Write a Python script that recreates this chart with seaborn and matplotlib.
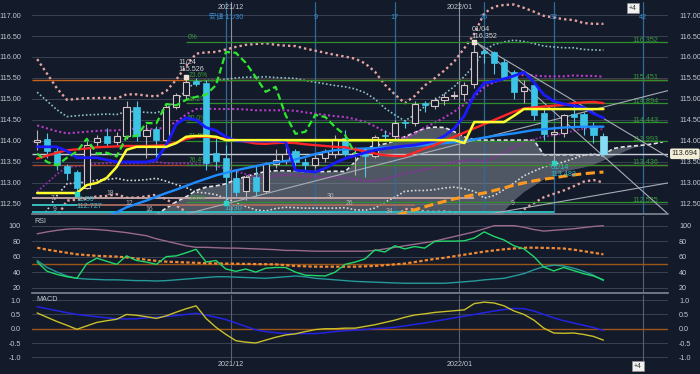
import numpy as np
import pandas as pd
import matplotlib
matplotlib.use("Agg")
import matplotlib.pyplot as plt
import matplotlib.transforms as mtransforms
import seaborn as sns

# ---- USD/JPY daily ----
dates = ["11/03", "11/04", "11/05", "11/08", "11/09", "11/10", "11/11", "11/12", "11/15", "11/16",
         "11/17", "11/18", "11/19", "11/22", "11/23", "11/24", "11/25", "11/26", "11/29", "11/30",
         "12/01", "12/02", "12/03", "12/06", "12/07", "12/08", "12/09", "12/10", "12/13", "12/14",
         "12/15", "12/16", "12/17", "12/20", "12/21", "12/22", "12/23", "12/24", "12/27", "12/28",
         "12/29", "12/30", "12/31", "01/03", "01/04", "01/05", "01/06", "01/07", "01/10", "01/11",
         "01/12", "01/13", "01/14", "01/17", "01/18", "01/19", "01/20", "01/21"]
opens = [113.98, 114.05, 113.75, 113.40, 113.26, 112.88, 113.98, 114.12, 113.98, 114.12,
         114.82, 114.12, 114.28, 114.02, 114.82, 115.10, 115.42, 115.38, 113.72, 113.60,
         113.12, 112.80, 113.15, 112.80, 113.45, 113.55, 113.75, 113.50, 113.42, 113.60,
         113.70, 114.07, 113.68, 113.70, 113.65, 114.15, 114.12, 114.45, 114.43, 114.90,
         114.83, 114.97, 115.08, 115.12, 115.36, 116.14, 116.12, 115.88, 115.64, 115.19,
         115.33, 114.67, 114.17, 114.19, 114.64, 114.64, 114.33, 114.12]
highs = [114.25, 114.20, 113.85, 113.45, 113.30, 114.00, 114.15, 114.30, 114.22, 114.95,
         114.95, 114.40, 114.35, 114.90, 115.15, 115.53, 115.50, 115.45, 114.10, 113.90,
         113.30, 113.20, 113.40, 113.50, 113.80, 113.90, 113.80, 113.60, 113.70, 113.80,
         114.15, 114.25, 113.85, 113.80, 114.15, 114.25, 114.50, 114.50, 114.95, 114.95,
         115.05, 115.15, 115.20, 115.40, 116.35, 116.20, 116.15, 115.95, 115.70, 115.45,
         115.35, 114.75, 114.35, 114.65, 114.90, 114.70, 114.45, 114.20]
lows = [113.78, 113.60, 113.30, 113.08, 112.73, 112.85, 113.85, 113.85, 113.90, 114.05,
        114.00, 113.60, 113.60, 113.95, 114.75, 115.00, 115.30, 113.30, 113.30, 112.53,
        112.70, 112.60, 112.70, 112.75, 113.35, 113.45, 113.40, 113.30, 113.35, 113.50,
        113.60, 113.65, 113.18, 113.15, 113.60, 114.00, 114.05, 114.30, 114.35, 114.70,
        114.75, 114.85, 115.00, 114.95, 115.25, 115.85, 115.60, 115.45, 115.00, 114.90,
        114.50, 114.02, 113.48, 114.10, 114.30, 114.15, 113.95, 113.63]
closes = [114.03, 113.76, 113.42, 113.24, 112.88, 113.90, 114.07, 113.95, 114.12, 114.82,
          114.12, 114.25, 114.02, 114.82, 115.10, 115.40, 115.36, 113.47, 113.52, 113.14,
          112.79, 113.15, 112.80, 113.45, 113.55, 113.70, 113.50, 113.42, 113.60, 113.75,
          114.05, 113.70, 113.72, 113.63, 114.10, 114.12, 114.43, 114.42, 114.88, 114.85,
          114.98, 115.05, 115.10, 115.33, 116.12, 116.10, 115.86, 115.52, 115.17, 115.29,
          114.62, 114.17, 114.22, 114.62, 114.57, 114.33, 114.14, 113.69]

# moving averages / bands
ma_red = [113.58, 113.65, 113.72, 113.78, 113.80, 113.82, 113.85, 113.86, 113.87, 113.88,
          113.88, 113.88, 113.89, 113.90, 113.96, 114.05, 114.10, 114.10, 114.08, 114.05,
          114.02, 113.98, 113.94, 113.93, 113.95, 113.96, 113.95, 113.92, 113.90, 113.88,
          113.86, 113.85, 113.80, 113.75, 113.70, 113.66, 113.64, 113.64, 113.72, 113.82,
          113.90, 114.00, 114.10, 114.20, 114.30, 114.40, 114.50, 114.60, 114.70, 114.77,
          114.80, 114.82, 114.84, 114.86, 114.90, 114.92, 114.93, 114.90]
bb_sigma = [0.79, 0.65, 0.51, 0.40, 0.40, 0.40, 0.39, 0.39, 0.38, 0.41,
            0.41, 0.40, 0.39, 0.43, 0.50, 0.58, 0.66, 0.67, 0.68, 0.71,
            0.74, 0.77, 0.79, 0.80, 0.78, 0.77, 0.77, 0.76, 0.75, 0.74,
            0.73, 0.72, 0.72, 0.70, 0.65, 0.56, 0.49, 0.42, 0.45, 0.50,
            0.53, 0.56, 0.60, 0.67, 0.75, 0.88, 0.90, 0.88, 0.85, 0.80,
            0.76, 0.72, 0.70, 0.68, 0.66, 0.63, 0.62, 0.63]
ma_blue = [113.86, 113.86, 113.86, 113.76, 113.60, 113.60, 113.60, 113.55, 113.50, 113.50,
           113.50, 113.50, 113.55, 113.90, 114.40, 114.55, 114.50, 114.32, 114.25, 114.10,
           114.00, 114.00, 114.00, 114.00, 114.00, 113.98, 113.30, 113.28, 113.26, 113.35,
           113.48, 113.58, 113.65, 113.72, 113.78, 113.82, 113.85, 113.88, 113.90, 113.95,
           114.00, 114.12, 114.30, 114.60, 115.10, 115.38, 115.42, 115.48, 115.55, 115.64,
           115.40, 115.10, 114.95, 114.88, 114.84, 114.80, 114.65, 114.55]
ma_yellow = [112.76, 112.76, 112.76, 112.76, 112.76, 112.95, 113.00, 113.12, 113.38, 113.79,
             113.86, 113.86, 113.86, 113.86, 113.95, 114.10, 114.12, 114.12, 114.10, 114.02,
             114.02, 114.02, 114.02, 114.02, 114.02, 114.02, 114.02, 114.02, 114.02, 114.02,
             114.02, 114.02, 114.02, 114.02, 114.02, 114.02, 114.02, 114.02, 114.02, 114.02,
             114.02, 114.02, 114.02, 113.95, 114.45, 114.45, 114.45, 114.45, 114.60, 114.76,
             114.76, 114.76, 114.76, 114.76, 114.76, 114.76, 114.76, 114.76]
nan = np.nan
ma_lightblue = [nan, nan, nan, nan, nan, nan, nan, 112.20, 112.30, 112.42,
                112.50, 112.58, 112.67, 112.76, 112.84, 112.93, 113.02, 113.10, 113.18, 113.24,
                113.30, 113.35, 113.40, 113.45, 113.49, 113.52, 113.56, 113.62, 113.69, 113.74,
                113.78, 113.80, 113.81, 113.82, 113.83, 113.84, 113.85, 113.86, 113.88, 113.90,
                113.93, 113.95, 113.97, 114.00, 114.04, 114.08, 114.12, 114.15, 114.18, 114.22,
                114.26, 114.28, 114.30, 114.32, 114.33, 114.34, 114.34, 114.34]
# ichimoku cloud (extends 6 bars past the last candle)
cloud_top = [nan, nan, nan, nan, nan, nan, nan, nan, nan, nan,
             nan, nan, 112.25, 112.40, 112.55, 112.67, 112.82, 112.90, 112.93, 112.98,
             113.08, 113.15, 113.22, 113.27, 113.29, 113.29, 113.28, 113.27, 113.27, 113.27,
             113.28, 113.27, 113.50, 113.80, 113.90, 113.93, 114.00, 114.10, 114.20, 114.30,
             114.33, 114.32, 114.22, 114.10, 114.03, 114.02, 114.02, 114.02, 114.02, 114.02,
             114.02, 113.67, 113.67, 113.67, 113.67, 113.67, 113.67, 113.67, 113.82, 113.86,
             113.88, 113.90, 113.93, 113.98]
cloud_bottom = [nan, nan, nan, nan, nan, nan, nan, nan, nan, nan,
                nan, nan, nan, nan, nan, nan, nan, nan, nan, nan,
                nan, nan, nan, nan, nan, nan, nan, nan, nan, nan,
                nan, nan, nan, nan, nan, nan, nan, nan, nan, nan,
                nan, nan, nan, nan, nan, nan, nan, 112.35, 112.60, 112.80,
                112.95, 113.10, 113.20, 113.28, 113.33, 113.38, 113.45, 113.55, 113.65, 113.75,
                113.85, 113.90, 113.93, 113.98]
orange_line = [nan] * 35 + [112.15, 112.22, 112.29, 112.36, 112.43, 112.50, 112.56, 112.62, 112.67, 112.72,
                            112.76, 112.82, 112.88, 112.95, 113.00, 113.05, 113.09, 113.12, 113.16, 113.19,
                            113.22, 113.24, 113.26]

fib_levels = [116.352, 115.451, 114.894, 114.443, 113.993, 113.436, 112.535]
fib_names = ["0%", "23.6%", "38.2%", "50.0%", "61.8%", "76.4%", "100%"]
fib_start = 15
last_price = 113.694

# ichimoku time count (from the 11/30 low)
count_idx = [19, 28, 36, 45, 52, 61]
count_names = ["安値 11/30", "9", "17", "26", "33", "42"]
month_idx = [19.5, 42.5]
month_names = ["2021/12", "2022/01"]

trend_x = [(44.3, 63.5), (44.3, 63.5), (15.0, 63.5), (45.5, 63.5)]
trend_y = [(116.33, 112.26), (116.33, 113.62), (112.26, 115.20), (112.26, 113.00)]

hl_level = [112.64, 112.47, 112.47, 112.31]
hl_end = [44, 38, 4, 52]
hl_color = ["#c8a8a8", "#a86a5a", "#2cc4c4", "#2cc4c4"]

rsi_green = [53, 41, 37, 34, 32, 51, 58, 54, 50, 61,
             55, 53, 50, 60, 61, 65, 69.5, 53, 55, 44,
             41, 44, 40, 45, 46, 46, 40, 36, 35.5, 35,
             40, 50, 53, 57, 68.6, 66, 74, 70, 73, 71,
             79.5, 80, 80, 80.5, 84, 92, 86, 81.5, 74, 70,
             60, 46.5, 41.5, 46, 42, 38, 35, 30]
rsi_purple = [89.5, 92, 94, 95.5, 96, 95.5, 95, 94, 92.5, 91,
              89, 87, 83, 80, 77, 74, 72, 72, 71.5, 71,
              71, 70.5, 70, 69.5, 69, 68, 68, 67.5, 67, 67,
              67, 67, 67, 67, 68, 70, 72, 74, 76, 78,
              80, 83, 86, 89, 92, 96, 100, 100, 100, 98,
              95, 93, 94, 95, 96, 97.5, 99, 100]
rsi_teal = [55, 46, 40, 35, 32, 31, 30.5, 30, 30, 29.5,
            29, 29, 28.5, 29, 30, 31, 32, 33, 34, 34,
            33.5, 33, 32.5, 32, 33, 34, 35, 34, 32, 31,
            30, 29, 28, 27.5, 27, 26.5, 26, 25.6, 25.6, 25.6,
            25.6, 25.6, 26.5, 27.5, 28.5, 30, 31, 32, 35, 38,
            43, 47, 49, 48, 45, 41, 36, 29]
rsi_orange = [71.5, 69, 67, 65, 63, 62, 61, 60.5, 60, 59,
              57.5, 56, 54.5, 53.5, 53, 52.5, 52, 51.5, 51.2, 51,
              50.8, 50.6, 50.4, 50.2, 50, 49, 48, 47.5, 47, 47,
              47, 47, 47, 47.5, 48, 49, 50, 51, 53, 55,
              57, 58.5, 60.5, 62.5, 64.5, 66.5, 68, 69.5, 70.5, 71.5,
              71.6, 71.3, 71, 70.5, 69, 67, 65, 63]
macd_line = [0.55, 0.40, 0.25, 0.12, -0.02, 0.10, 0.22, 0.28, 0.33, 0.50,
             0.47, 0.42, 0.36, 0.45, 0.58, 0.70, 0.80, 0.36, 0.05, -0.20,
             -0.42, -0.47, -0.50, -0.40, -0.30, -0.22, -0.18, -0.10, -0.03, 0.00,
             0.00, 0.02, 0.02, 0.08, 0.14, 0.22, 0.30, 0.40, 0.48, 0.52,
             0.57, 0.60, 0.63, 0.66, 0.88, 0.93, 0.90, 0.80, 0.62, 0.50,
             0.30, 0.02, -0.15, -0.16, -0.15, -0.20, -0.27, -0.40]
macd_signal = [0.77, 0.70, 0.63, 0.56, 0.50, 0.46, 0.42, 0.38, 0.35, 0.34,
               0.35, 0.38, 0.40, 0.43, 0.46, 0.50, 0.54, 0.48, 0.40, 0.32,
               0.20, 0.08, -0.04, -0.10, -0.14, -0.17, -0.17, -0.17, -0.17, -0.14,
               -0.10, -0.07, -0.05, -0.03, 0.00, 0.02, 0.05, 0.10, 0.15, 0.20,
               0.26, 0.32, 0.38, 0.44, 0.50, 0.56, 0.62, 0.67, 0.71, 0.70,
               0.62, 0.50, 0.38, 0.28, 0.20, 0.12, 0.04, -0.06]

BG = "#131a2a"
GRID = "#3a4254"
TXT = "#c4c8d0"
COUNT_BLUE = "#3a8fd0"
FS = 5.2

sns.set_theme(style="dark", rc={
    "axes.facecolor": BG, "figure.facecolor": BG, "axes.edgecolor": "#707888",
    "grid.color": GRID, "text.color": TXT, "xtick.color": TXT, "ytick.color": TXT,
})
plt.rcParams["font.family"] = ["Liberation Sans", "Noto Sans CJK JP"]

df = pd.DataFrame({"date": dates, "open": opens, "high": highs, "low": lows, "close": closes})
df["i"] = np.arange(len(df))
n = len(df)
XMIN, XMAX = -0.52, 63.5
YMIN, YMAX = 112.26, 117.31

fig = plt.figure(figsize=(7, 3.74), dpi=100)
L, W = 32 / 700, 636 / 700
ax = fig.add_axes([L, 1 - 214 / 374, W, 212 / 374])
ax_rsi = fig.add_axes([L, 1 - 293 / 374, W, 77 / 374])
ax_macd = fig.add_axes([L, 1 - 361 / 374, W, 66 / 374])


def line(a, ys, color, lw, ls="-", z=4, xs=None):
    ys = np.asarray(ys, dtype=float)
    xs = np.arange(len(ys)) if xs is None else np.asarray(xs)
    ok = ~np.isnan(ys)
    sns.lineplot(x=xs[ok], y=ys[ok], ax=a, color=color, linewidth=lw,
                 linestyle=ls, zorder=z, estimator=None, legend=False)


# ---------- main price panel ----------
xc = np.arange(len(cloud_top))
top = np.array(cloud_top)
bot = np.where(np.isnan(cloud_bottom), YMIN - 0.5, cloud_bottom)
ax.fill_between(xc, top, bot, where=~np.isnan(top), color="#8e949e", alpha=0.5, lw=0, zorder=1)
line(ax, cloud_top, "#e6e6e6", 1.2, (0, (2.5, 1.5)), z=2)

mid = np.array(ma_red)
sig = np.array(bb_sigma)
line(ax, mid + 3 * sig, "#e4a4a0", 1.7, (0, (1, 1.3)), z=2)
line(ax, mid - 3 * sig, "#e4a4a0", 1.7, (0, (1, 1.3)), z=2)
line(ax, mid + 2 * sig, "#8cc2c8", 1.2, (0, (1, 1.3)), z=2)
line(ax, mid - 2 * sig, "#d8d8d8", 1.2, (0, (1, 1.3)), z=2)
line(ax, mid + 1 * sig, "#b83cc8", 1.5, (0, (1, 1.2)), z=2)
line(ax, mid - 1 * sig, "#8c2ea0", 1.4, (0, (1, 1.0)), z=2)

for lvl, end, col in zip(hl_level, hl_end, hl_color):
    ax.hlines(lvl, XMIN, end, color=col, lw=1.3, zorder=2)
ax.hlines([fib_levels[1]], XMIN, XMAX, color="#c8641a", lw=1.0, zorder=2)
ax.hlines([fib_levels[5]], XMIN, XMAX, color="#a04c30", lw=1.0, zorder=2)
ax.hlines(fib_levels, fib_start, XMAX, color="#2f8f2f", lw=0.9, zorder=2.2)
ax.hlines(last_price, XMIN, XMAX, color="#c8ccd4", lw=1.0, zorder=2.2)
for nm, lvl in zip(fib_names, fib_levels):
    ax.text(fib_start + 0.2, lvl + 0.02, nm, color="#3c9a3c", fontsize=FS - 0.3, va="bottom", ha="left", zorder=2)
    ax.text(61.2, lvl + 0.05, f"{lvl:.3f}", color="#3c9a3c", fontsize=FS, va="center", ha="center", zorder=2)

for (x0, x1), (y0, y1) in zip(trend_x, trend_y):
    ax.plot([x0, x1], [y0, y1], color="#a8acb4", lw=0.8, zorder=2.3)

for xi in month_idx:
    ax.axvline(xi, color="#8a92a2", lw=0.8, zorder=1.5)
for xi, nm in zip(count_idx, count_names):
    ax.axvline(xi, color="#2c6c9c", lw=0.9, zorder=1.6)
    ax.text(xi, 116.95, nm, color=COUNT_BLUE, fontsize=FS, ha="center", va="center", zorder=6)
for xi, nm in zip(month_idx, month_names):
    ax.text(xi, 117.19, nm, color=TXT, fontsize=FS, ha="center", va="center")

# candles
o, h, lo, c = df["open"].values, df["high"].values, df["low"].values, df["close"].values
up = c >= o
body = np.maximum(np.abs(c - o), 0.02)
ax.vlines(df["i"], lo, h, colors=np.where(up, "#b8b0b0", "#58c8e8"), lw=0.8, zorder=3)
ax.bar(df["i"][up], body[up], bottom=o[up], width=0.62, facecolor=BG,
       edgecolor="#d8c4c4", lw=0.8, zorder=3.5)
dn_col = ["#86dcf4" if k == n - 1 else "#3cc3e6" for k in range(n)]
ax.bar(df["i"][~up], body[~up], bottom=c[~up], width=0.62,
       color=np.array(dn_col)[~up], edgecolor=np.array(dn_col)[~up], lw=0.5, zorder=3.5)

line(ax, ma_lightblue, "#1e8cff", 1.7, z=4)
line(ax, ma_red, "#ff2626", 1.7, z=4.1)
line(ax, ma_blue, "#1a1aff", 2.0, z=4.2)
line(ax, ma_yellow, "#ffff30", 1.8, z=4.3)
line(ax, orange_line, "#ff9a1e", 2.2, (0, (3, 1.5)), z=4.4)
# lagging span: close plotted 25 bars back
line(ax, closes[25:], "#2ee62e", 1.6, (0, (3, 1.5)), z=4.5, xs=df["i"].values[:n - 25])

ax.scatter([15, 44], [115.526, 116.352], marker="s", s=7, color="#f0e0d4", zorder=6)
ax.scatter([4, 19, 52], [112.727, 112.53, 113.483], marker="s", s=7, color="#2ed6c6", zorder=6)
ax.text(14.2, 115.62, "11/24\n115.526", color="#d4d4d4", fontsize=FS, ha="left", va="bottom", linespacing=1.0, zorder=6)
ax.text(43.7, 116.40, "01/04\n116.352", color="#d4d4d4", fontsize=FS, ha="left", va="bottom", linespacing=1.0, zorder=6)
ax.text(3.9, 112.70, "11/09\n112.727", color="#36b8c8", fontsize=FS, ha="left", va="top", linespacing=1.0, zorder=6)
ax.text(51.7, 113.44, "01/14\n113.483", color="#36b8c8", fontsize=FS, ha="left", va="top", linespacing=1.0, zorder=6)
ax.text(18.8, 112.40, "11/30", color="#36b8c8", fontsize=FS, ha="left", va="center", zorder=6)
for xi, yi, nm in [(1.5, 112.64, "7"), (1.8, 112.37, "9"), (7.4, 112.74, "18"), (9.3, 112.50, "12"),
                   (11.3, 112.36, "16"), (29.5, 112.67, "30"), (31.4, 112.50, "26"),
                   (35.5, 112.33, "34"), (47.9, 112.52, "9")]:
    ax.text(xi, yi, nm, color="#b4b4b4", fontsize=FS - 0.3, ha="center", va="center", zorder=6)

blend = mtransforms.blended_transform_factory(ax.transAxes, ax.transData)
ax.text(1.006, last_price, f"{last_price:.3f}", transform=blend, fontsize=FS, color="#202020",
        ha="left", va="center", zorder=7,
        bbox=dict(boxstyle="round,pad=0.25", fc="#f3efd6", ec="none"))

ax.set_ylim(YMIN, YMAX)
ax.set_yticks(np.arange(112.5, 117.01, 0.5))
ax.set_yticklabels([f"{v:.2f}" for v in np.arange(112.5, 117.01, 0.5)])

# ---------- RSI ----------
ax_rsi.axhline(50, color="#9a5618", lw=1.0, zorder=2)
line(ax_rsi, rsi_purple, "#9a6a8a", 1.0)
line(ax_rsi, rsi_teal, "#249a9a", 1.0)
line(ax_rsi, rsi_orange, "#f08a34", 1.6, (0, (1.5, 1)))
line(ax_rsi, rsi_green, "#22d86a", 1.0, z=5)
ax_rsi.set_ylim(13, 112.5)
ax_rsi.set_yticks([20, 40, 60, 80, 100])
ax_rsi.text(0.003, 0.98, "RSI", transform=ax_rsi.transAxes, fontsize=FS, va="top", ha="left")

# ---------- MACD ----------
ax_macd.axhline(0, color="#a0561a", lw=1.0, zorder=2)
line(ax_macd, macd_signal, "#2424e0", 1.1)
line(ax_macd, macd_line, "#c8c02a", 1.0, z=5)
ax_macd.set_ylim(-1.13, 1.18)
ax_macd.set_yticks([-1.0, -0.5, 0.0, 0.5, 1.0])
ax_macd.set_yticklabels(["-1.0", "-0.5", "0.0", "0.5", "1.0"])
ax_macd.text(0.007, 0.985, "MACD", transform=ax_macd.transAxes, fontsize=FS, va="top", ha="left")

for a in (ax_rsi, ax_macd):
    for xi in month_idx + [61]:
        a.axvline(xi, color="#5a6272", lw=0.8, zorder=1)

for a in (ax, ax_rsi, ax_macd):
    a.set_xlim(XMIN, XMAX)
    a.set_xlabel("")
    a.set_ylabel("")
    a.grid(axis="y", color=GRID, lw=0.7)
    a.grid(axis="x", visible=False)
    a.tick_params(axis="y", left=False, right=False, labelleft=True, labelright=True,
                  labelsize=FS, pad=2, labelcolor=TXT)
    a.tick_params(axis="x", bottom=False, labelbottom=False)
    for s in ("left", "right", "top"):
        a.spines[s].set_visible(False)
    a.spines["bottom"].set_color("#7a8292")
ax_macd.spines["bottom"].set_visible(False)

# date labels under the MACD panel
blend_m = mtransforms.blended_transform_factory(ax_macd.transData, ax_macd.transAxes)
for xi, nm in zip(month_idx, month_names):
    ax_macd.text(xi, -0.06, nm, transform=blend_m, fontsize=FS, color=TXT, ha="center", va="center")

for fx, fy in [(633, 8), (638, 366)]:
    fig.text(fx / 700, 1 - fy / 374, "+4", fontsize=FS - 0.3, color="#303030", ha="center", va="center",
             bbox=dict(boxstyle="square,pad=0.25", fc="#f0f0f0", ec="#909090", lw=0.5))

fig.savefig("out.png", dpi=100, facecolor=BG)
